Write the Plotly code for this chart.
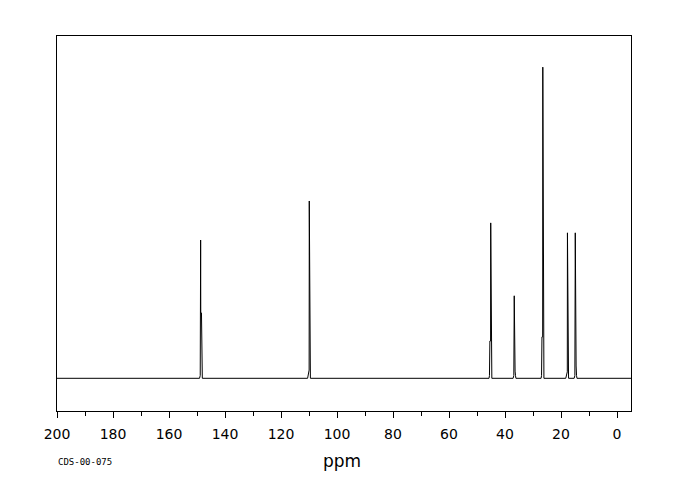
import plotly.graph_objects as go

# Peak list (ppm, relative intensity)
shifts = [148.7, 109.9, 45.1, 36.7, 26.5, 17.7, 14.9]
heights = [40.4, 51.8, 45.4, 24.1, 90.9, 42.5, 42.5]
shoulder_heights = [19.1, 2.4, 10.9, 2.1, 12.1, 1.9, 3.6]
shoulder_side = [-1, 1, 1, -1, 1, 1, -1]  # +1 = higher ppm side, -1 = lower ppm side

x_start, x_end = 200.0, -5.0
tick_vals = [200, 180, 160, 140, 120, 100, 80, 60, 40, 20, 0]
tick_text = [str(v) for v in tick_vals]

# Build the spectrum trace (baseline with peak sticks)
xs = [x_start]
ys = [0.0]
for s, h, sh, side in sorted(zip(shifts, heights, shoulder_heights, shoulder_side), key=lambda t: -t[0]):
    if side == 1:
        pts = [(s + 0.6, 0), (s + 0.45, 0.8), (s + 0.3, sh), (s + 0.05, sh), (s, h), (s - 0.15, 0.8), (s - 0.4, 0)]
    else:
        pts = [(s + 0.4, 0), (s + 0.15, 0.8), (s, h), (s - 0.05, sh), (s - 0.3, sh), (s - 0.45, 0.8), (s - 0.6, 0)]
    for px, py in pts:
        xs.append(px)
        ys.append(py)
xs.append(x_end)
ys.append(0.0)

# The page body adds an 8px offset; compensate in margins
OFF = 8
L, T, R, B = 57 - OFF, 36 - OFF, 680 - (631 - OFF), 500 - (411 - OFF)

fig = go.Figure()
fig.add_trace(go.Scatter(x=xs, y=ys, mode="lines",
                         line=dict(color="black", width=1), hoverinfo="skip",
                         showlegend=False))

plot_h = 500 - T - B
plot_w = 680 - L - R
def py2paper(py):
    return (500 - B - (py - OFF)) / plot_h
def px2paper(px):
    return ((px - OFF) - L) / plot_w

fig.update_layout(
    width=680, height=500,
    margin=dict(l=L, r=R, t=T, b=B),
    paper_bgcolor="white", plot_bgcolor="white",
    font=dict(family="DejaVu Sans", color="black"),
    xaxis=dict(
        range=[x_start, x_end],
        tickvals=tick_vals, ticktext=tick_text,
        ticks="outside", ticklen=6, tickwidth=1, tickcolor="black",
        minor=dict(dtick=10, tick0=0, ticks="outside", ticklen=4, tickwidth=1, tickcolor="black"),
        showline=True, linecolor="black", linewidth=1, mirror=True,
        showgrid=False, zeroline=False,
        ticklabelstandoff=4,
        tickfont=dict(family="DejaVu Sans", size=14, color="black"),
    ),
    yaxis=dict(
        range=[-9.55, 100],
        showticklabels=False, ticks="",
        showline=True, linecolor="black", linewidth=1, mirror=True,
        showgrid=False, zeroline=False,
    ),
    annotations=[
        dict(text="ppm", xref="paper", yref="paper", x=px2paper(342), y=py2paper(461),
             xanchor="center", yanchor="middle", showarrow=False,
             font=dict(family="DejaVu Sans", size=17, color="black")),
        dict(text="CDS-00-075", xref="paper", yref="paper", x=px2paper(56), y=py2paper(462),
             xanchor="left", yanchor="middle", showarrow=False,
             font=dict(family="DejaVu Sans Mono", size=9, color="black")),
    ],
)

fig.write_html("out.html")
